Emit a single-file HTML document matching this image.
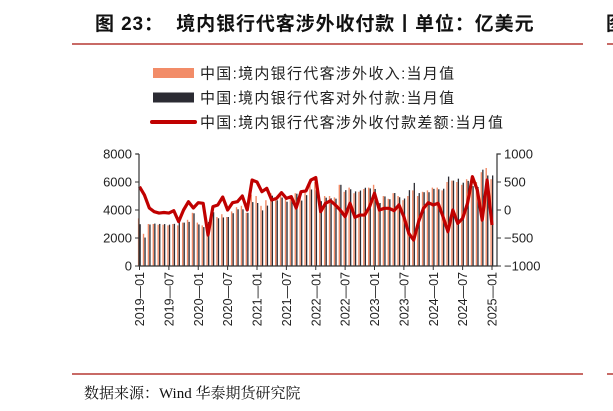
<!DOCTYPE html>
<html><head><meta charset="utf-8"><style>
body{margin:0;background:#fff;width:613px;height:411px;overflow:hidden;position:relative;font-family:"Liberation Sans","Noto Sans CJK SC",sans-serif}
.t{position:absolute;white-space:nowrap}
</style></head><body>
<div class="t" style="left:95px;top:9px;font-size:19px;letter-spacing:0.9px;font-weight:bold;color:#111">图 23：&nbsp; 境内银行代客涉外收付款丨单位：亿美元</div>
<div class="t" style="left:606px;top:9px;font-size:19px;font-weight:bold;color:#111">图</div>
<div style="position:absolute;left:72px;top:43px;width:511px;height:2px;background:#c86a66"></div>
<div style="position:absolute;left:607px;top:43px;width:10px;height:2px;background:#c86a66"></div>
<div style="position:absolute;left:72px;top:373px;width:511px;height:2px;background:#c86a66"></div>
<div style="position:absolute;left:607px;top:373px;width:10px;height:2px;background:#c86a66"></div>
<div class="t" style="left:84px;top:382px;font-size:15px;font-family:'Liberation Serif','Noto Serif CJK SC',serif;color:#111">数据来源：Wind 华泰期货研究院</div>
<svg id="c" width="613" height="411" style="position:absolute;left:0;top:0"></svg>
<script>
const months=[];for(let y=2019;y<=2025;y++)for(let m=1;m<=12;m++){if(y==2025&&m>1)break;months.push(y+'-'+String(m).padStart(2,'0'));}
const income=[3400,2300,3000,3000,2950,2950,2900,3000,2900,3100,3300,3800,
3100,2900,2700,3900,3500,3700,3500,3900,4200,4300,3800,5100,
5000,4300,4700,5200,4900,5200,4800,5000,5200,5000,5400,6000,
6000,4600,5000,5000,4900,5800,5300,5600,5200,5300,5500,5600,
5800,4500,5000,4800,5200,5000,4700,5000,5400,5000,5300,5400,
5600,5600,5400,6000,6100,6000,5800,6200,6300,6000,6700,7000,6200];
const payment=[2984,2032,2964,3030,3005,2995,2955,3012,3108,3100,3152,3764,
2970,2780,3146,3840,3410,3468,3500,3770,4052,4050,3800,4565,
4500,3973,4313,5022,4692,4890,4592,4762,5164,4673,5060,5465,
5420,4630,4880,4835,4810,5800,5420,5480,5330,5390,5590,5540,
5502,4500,4970,4770,5212,4910,4820,5417,5936,5210,5270,5270,
5510,5480,5520,6387,6100,6238,5950,6080,5705,5643,6880,6465,6468];
const diff=[416,268,36,-30,-55,-45,-55,-12,-208,0,148,36,
130,120,-446,60,90,232,0,130,148,250,0,535,
500,327,387,178,208,310,208,238,36,327,340,535,
580,-30,120,165,90,0,-120,120,-130,-90,-90,60,
298,0,30,30,-12,90,-120,-417,-536,-210,30,130,
90,120,-120,-387,0,-238,-150,120,595,357,-180,535,-268];
const leftTicks=[0,2000,4000,6000,8000];
const rightTicks=[-1000,-500,0,500,1000];
const legendLabels=['中国:境内银行代客涉外收入:当月值','中国:境内银行代客对外付款:当月值','中国:境内银行代客涉外收付款差额:当月值'];
const NS='http://www.w3.org/2000/svg',svg=document.getElementById('c');
function mk(t,a,p){const e=document.createElementNS(NS,t);for(const k in a)e.setAttribute(k,a[k]);(p||svg).appendChild(e);return e;}
const X0=139.5,X1=492,Y0=266,Y1=154;
const xs=i=>X0+(X1-X0)*i/72;
const yl=v=>Y0-(Y0-Y1)*v/8000;
const yr=v=>Y0-(Y0-Y1)*(v+1000)/2000;
const lc=['#f28c68','#2b2b33','#c00000'];
legendLabels.forEach((l,i)=>{const y=73+i*24.5;
 let s=i<2?mk('rect',{x:153,y:y-5,width:41,height:10,fill:lc[i]}):mk('line',{x1:152,y1:y,x2:195,y2:y,stroke:lc[i],'stroke-width':4,'stroke-linecap':'round'});
 
 
 const t=mk('text',{x:200,y:y+5.5,'font-size':15,'letter-spacing':1.3,fill:'#222'});t.textContent=l;
 
 });
months.forEach((m,i)=>{const x=xs(i);
 const a=mk('rect',{x:x-1.6,y:yl(income[i]),width:1.4,height:Y0-yl(income[i]),fill:'#f28c68'});
 
 
 const b=mk('rect',{x:x,y:yl(payment[i]),width:1.3,height:Y0-yl(payment[i]),fill:'#2b2b33'});
 
 });
const pl=mk('polyline',{points:diff.map((v,i)=>xs(i)+','+yr(v)).join(' '),fill:'none',stroke:'#c00000','stroke-width':3.2,'stroke-linejoin':'round'});


const ax=mk('path',{d:`M139,${Y1}H136M139,${Y1}V${Y0}H497V${Y1}H500`,fill:'none',stroke:'#333','stroke-width':1.2});


leftTicks.forEach(v=>{mk('line',{x1:135,x2:139,y1:yl(v),y2:yl(v),stroke:'#333'});
 const t=mk('text',{x:132,y:yl(v)+4.5,'font-size':13,'text-anchor':'end',fill:'#222'});t.textContent=v;
 
 });
rightTicks.forEach(v=>{mk('line',{x1:497,x2:501,y1:yr(v),y2:yr(v),stroke:'#333'});
 const t=mk('text',{x:504,y:yr(v)+4.5,'font-size':13,fill:'#222'});t.textContent=v<0?'\u2212'+(-v):v;
 
 });
months.forEach((m,i)=>{if(i%6)return;const x=xs(i);
 mk('line',{x1:x,x2:x,y1:Y0,y2:Y0+4,stroke:'#333'});
 const t=mk('text',{x:0,y:0,'font-size':12.5,'text-anchor':'end',fill:'#222',transform:`translate(${x+4.5},${Y0+6}) rotate(-90)`});t.textContent=m.replace('-','\u2014');
 
 });
</script>
</body></html>
